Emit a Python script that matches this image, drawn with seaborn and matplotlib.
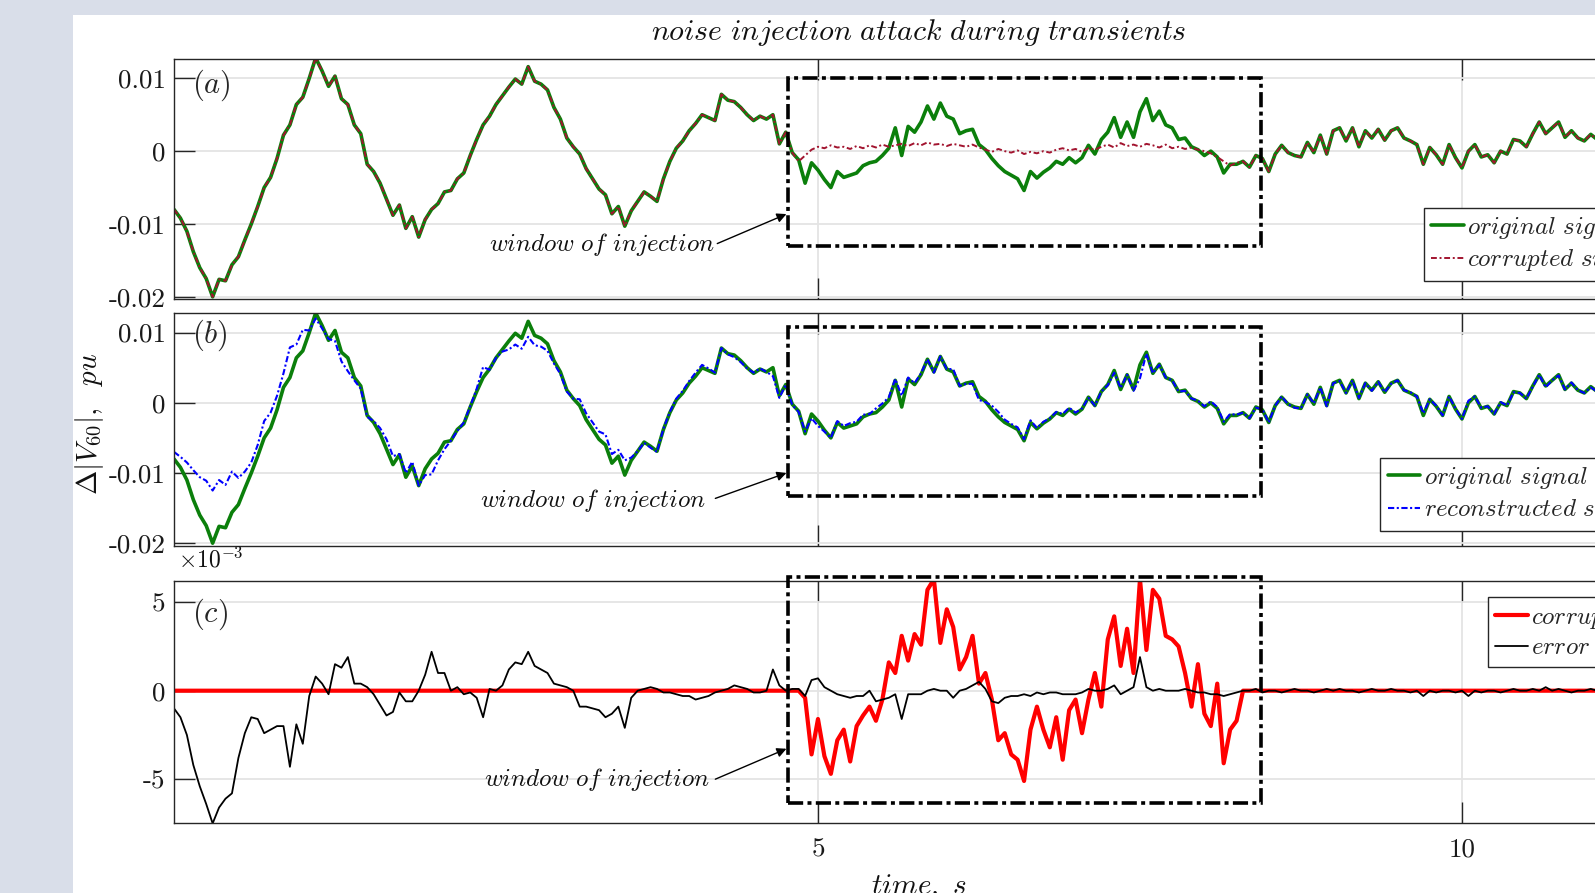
import numpy as np
import pandas as pd
import matplotlib
matplotlib.use("Agg")
import matplotlib.pyplot as plt
from matplotlib.patches import Rectangle
import seaborn as sns

# ---------------------------------------------------------------------------
# Data (values in units of 1e-3 pu, sampled every DT seconds from t = 0)
# ---------------------------------------------------------------------------
DT = 0.05

original_mpu = [
    -8.0, -9.2, -11.0, -13.8, -16.0, -17.5, -20.0, -17.6, -17.8, -15.6, -14.5, -12.2, -10.0, -7.6, -5.0, -3.6, -1.0, 2.2, 3.6, 6.4,
    7.4, 10.0, 12.8, 11.0, 8.9, 10.3, 7.2, 6.4, 3.6, 2.4, -1.8, -2.8, -4.4, -6.6, -8.8, -7.4, -10.6, -9.0, -11.8, -9.4,
    -8.0, -7.2, -5.6, -5.4, -3.8, -3.0, -0.6, 1.6, 3.6, 4.8, 6.4, 7.6, 8.8, 9.9, 9.2, 11.6, 9.6, 9.2, 8.4, 6.0,
    4.4, 1.8, 0.6, -0.4, -2.4, -3.8, -5.2, -6.0, -8.6, -7.6, -10.3, -8.2, -6.9, -5.6, -6.2, -6.9, -3.8, -1.4, 0.4, 1.4,
    2.8, 3.8, 5.0, 4.6, 4.2, 7.8, 7.0, 6.8, 6.0, 5.0, 4.2, 4.8, 4.4, 5.0, 1.0, 2.6, -0.2, -1.2, -4.4, -1.6,
    -2.6, -3.9, -5.0, -2.8, -3.6, -3.3, -3.0, -2.0, -1.6, -1.4, -0.6, 0.4, 3.2, -0.6, 3.4, 2.6, 4.0, 6.2, 4.4, 6.6,
    4.8, 4.4, 2.4, 2.8, 3.0, 0.9, 0.2, -1.0, -2.0, -2.8, -3.3, -3.8, -5.4, -2.8, -3.7, -2.9, -2.3, -1.4, -1.8, -0.9,
    -1.6, -0.9, 0.8, -0.4, 1.6, 2.6, 4.6, 1.9, 4.0, 1.9, 5.4, 7.2, 4.2, 5.5, 3.6, 3.2, 1.6, 1.8, 0.6, 0.2,
    -0.6, 0.0, -0.8, -3.0, -1.8, -1.8, -1.4, -2.2, -0.6, -1.0, -2.8, -0.4, 0.8, -0.2, -0.6, -0.8, 1.2, -0.2, 2.2, -0.4,
    2.8, 3.2, 1.4, 3.2, 0.6, 2.8, 1.8, 3.0, 1.5, 2.8, 3.2, 1.8, 1.4, 0.9, -1.8, 0.5, -0.5, -1.8, 0.9, -0.9,
    -2.3, 0.0, 0.9, -0.8, -0.5, -1.6, 0.0, -0.4, 1.6, 1.4, 0.6, 2.4, 4.0, 2.4, 3.2, 4.0, 1.9, 2.8, 1.8, 1.4,
    2.3, 1.6, 2.0, 1.2, 1.8,
]

# estimation error = original - reconstructed
error_mpu = [
    -1.0, -1.5, -2.5, -4.2, -5.4, -6.4, -7.5, -6.6, -6.1, -5.8, -3.8, -2.4, -1.5, -1.6, -2.4, -2.2, -2.0, -2.0, -4.3, -1.9,
    -3.0, -0.3, 0.8, 0.4, -0.2, 1.5, 1.3, 1.9, 0.4, 0.4, 0.2, -0.2, -0.8, -1.4, -1.2, -0.1, -0.6, -0.6, 0.0, 0.9,
    2.2, 1.0, 1.0, 0.0, 0.2, -0.2, -0.1, -0.4, -1.5, 0.1, 0.0, 0.3, 1.2, 1.6, 1.5, 2.2, 1.4, 1.2, 1.0, 0.4,
    0.3, 0.2, 0.0, -0.9, -0.9, -1.0, -1.1, -1.5, -1.3, -0.9, -2.1, -0.4, 0.0, 0.1, 0.2, 0.1, -0.1, -0.1, -0.2, -0.3,
    -0.3, -0.5, -0.4, -0.3, -0.1, 0.0, 0.1, 0.3, 0.2, 0.1, -0.1, -0.1, 0.0, 1.2, 0.3, 0.0, 0.1, 0.1, -0.3, 0.6,
    0.7, 0.2, 0.0, -0.2, -0.3, -0.4, -0.3, -0.3, 0.0, -0.6, -0.5, -0.4, -0.2, -1.6, -0.2, -0.2, -0.2, 0.0, 0.1, 0.0,
    0.0, -0.4, 0.0, 0.1, 0.3, 0.5, 0.1, -0.6, -0.7, -0.4, -0.3, -0.3, -0.2, -0.3, -0.1, -0.2, -0.1, -0.1, -0.2, -0.2,
    -0.2, -0.1, 0.1, 0.0, 0.0, 0.1, 0.3, -0.2, 0.0, 0.2, 1.9, 0.2, 0.0, 0.1, 0.0, 0.0, 0.0, 0.1, 0.0, -0.1,
    -0.1, -0.2, -0.2, -0.3, -0.2, -0.1, 0.0, 0.0, 0.1, -0.1, 0.0, 0.0, -0.1, 0.0, 0.1, 0.0, 0.0, -0.1, 0.0, 0.1,
    0.0, 0.1, 0.0, 0.0, -0.1, 0.0, 0.1, 0.0, 0.0, 0.1, 0.0, 0.0, -0.1, 0.0, -0.3, 0.0, -0.1, 0.0, 0.0, -0.1,
    0.0, -0.3, 0.0, -0.1, 0.0, 0.0, -0.1, 0.0, 0.1, 0.0, 0.0, 0.1, 0.0, 0.2, 0.0, 0.1, 0.0, -0.1, 0.0, 0.0,
    0.1, 0.0, 0.0, -0.1, 0.0,
]

# attack window: samples from WINDOW_T0 to 8.30 s
WINDOW_T0 = 4.80
corrupted_window_mpu = [
    -0.2, -1.4, -0.6, 0.2,
    0.6, 0.4, 0.8, 0.5, 0.6, 0.3, 0.7, 0.4, 0.8, 0.5, 0.9, 0.6, 0.8, 1.0, 0.7, 1.1, 0.8, 1.2, 0.9, 1.0,
    0.7, 1.0, 0.8, 0.6, 0.9, 0.5, 0.2, -0.1, 0.3, 0.0, -0.2, 0.1, -0.4, -0.1, -0.3, 0.0, -0.2, 0.2, 0.4, 0.1,
    0.3, -0.1, 0.4, 0.2, 0.6, 0.9, 0.5, 1.1, 0.7, 0.9, 0.6, 1.0, 0.8, 0.5, 0.9, 0.4, 0.6, 0.3, 0.5, 0.2,
    0.0, -0.3, -0.8, -1.4, -2.0, -1.6, -1.4,
]
corruption_window_mpu = [
    0.0, 0.0, -0.4, -3.6,
    -1.6, -3.7, -4.7, -2.8, -2.2, -4.0, -2.0, -1.4, -0.9, -1.7, -0.5, 1.6, 1.0, 3.1, 1.7, 3.2, 2.6, 5.7, 6.3, 2.7,
    4.6, 3.6, 1.2, 1.9, 3.1, 0.4, 1.0, -0.5, -2.8, -2.4, -3.6, -3.9, -5.1, -2.2, -0.9, -2.2, -3.2, -1.5, -3.9, -1.1,
    -0.5, -2.4, -0.5, 1.0, -0.9, 2.9, 4.2, 1.4, 3.5, 1.0, 6.3, 2.3, 5.7, 5.2, 3.1, 2.9, 2.5, 1.0, -0.9, 1.5,
    -1.3, -2.0, 0.4, -4.1, -2.2, -1.7, 0.0,
]

# window-of-injection box: time span and vertical extent per panel
box_t = (4.771, 8.443)
box_y_a = (-0.01298, 0.0100)
box_y_b = (-0.01333, 0.01073)
box_y_c = (-0.00632, 0.00643)

# ---------------------------------------------------------------------------
n = min(len(original_mpu), len(error_mpu))
t = np.round(np.arange(n) * DT, 2)
orig = np.asarray(original_mpu[:n]) * 1e-3
err = np.asarray(error_mpu[:n]) * 1e-3
recon = orig - err

i0 = int(round(WINDOW_T0 / DT))
corrupted = orig.copy()
corrupted[i0:i0 + len(corrupted_window_mpu)] = np.asarray(corrupted_window_mpu) * 1e-3
corruption = np.zeros(n)
corruption[i0:i0 + len(corruption_window_mpu)] = np.asarray(corruption_window_mpu) * 1e-3

df = pd.DataFrame({"t": t, "original": orig, "corrupted": corrupted,
                   "reconstructed": recon, "corruption": corruption, "error": err})

# ---------------------------------------------------------------------------
sns.set_theme(style="white")
plt.rcParams.update({
    "mathtext.fontset": "cm",
    "font.family": ["cmr10", "DejaVu Sans"],
    "axes.unicode_minus": False,
    "axes.formatter.use_mathtext": True,
})

W, H = 1595, 893
BG = "#d9dee9"
AX_COL = "#262626"
GRID_COL = "#e4e4e4"
GREEN = "#0b7f0b"
DARKRED = "#a2142f"
BLUE = "#0000ff"
RED = "#ff0000"

fig = plt.figure(figsize=(W / 100, H / 100), dpi=100, facecolor=BG)
fig.add_artist(Rectangle((73 / W, 0), 1, 1 - 15.3 / H, transform=fig.transFigure,
                         facecolor="white", edgecolor="none", zorder=0))

left, width = 174 / W, 1487.6 / W
axA = fig.add_axes([left, 1 - 299 / H, width, 240 / H])
axB = fig.add_axes([left, 1 - 546.2 / H, width, 232.9 / H])
axC = fig.add_axes([left, 1 - 822.9 / H, width, 242.1 / H])

TICK_FS = 19.5
TXT_FS = 18

def style_axes(ax, ylim, yticks, ylabels, show_x):
    ax.set_facecolor("white")
    ax.set_xlim(0, 11.55)
    ax.set_ylim(*ylim)
    ax.set_xticks([5, 10])
    ax.set_xticklabels(["5", "10"] if show_x else ["", ""])
    ax.set_yticks(yticks)
    ax.set_yticklabels(ylabels)
    ax.set_xlabel("")
    ax.set_ylabel("")
    ax.grid(True, color=GRID_COL, lw=1.3)
    ax.set_axisbelow(True)
    ax.tick_params(direction="in", length=15, width=1.0, color=AX_COL,
                   top=True, right=True, bottom=True, left=True,
                   labelsize=TICK_FS, labelcolor="#1a1a1a")
    ax.tick_params(axis="y", pad=6)
    ax.tick_params(axis="x", pad=11)
    for s in ax.spines.values():
        s.set_color(AX_COL)
        s.set_linewidth(1.0)

def window_box(ax, ys, clip=True):
    r = Rectangle((box_t[0], ys[0]), box_t[1] - box_t[0], ys[1] - ys[0],
                  fill=False, edgecolor="black", lw=2.6,
                  ls=(0, (4.2, 1.2, 1.1, 1.2)), zorder=4, clip_on=clip)
    ax.add_patch(r)

def window_note(ax, text_xy, tail, head):
    ax.text(*text_xy, r"$window\ of\ injection$", ha="center", va="center",
            fontsize=TXT_FS, color="#111111", zorder=5)
    ax.annotate("", xy=head, xytext=tail,
                arrowprops=dict(arrowstyle="-|>", color="black", lw=1.0,
                                mutation_scale=14, shrinkA=0, shrinkB=0),
                zorder=5)

def legend(ax, handles, labels, anchor):
    leg = ax.legend(handles, labels, loc="upper left", bbox_to_anchor=anchor,
                    frameon=True, fancybox=False, framealpha=1, edgecolor=AX_COL,
                    fontsize=TXT_FS, handlelength=1.3, handletextpad=0.15,
                    borderpad=0.3, labelspacing=0.25, borderaxespad=0)
    leg.get_frame().set_linewidth(1.0)
    leg.set_zorder(10)

# ---- (a) original vs corrupted -------------------------------------------
sns.lineplot(data=df, x="t", y="original", ax=axA, color=GREEN, lw=2.6,
             estimator=None, sort=False, legend=False)
hA1 = axA.lines[-1]
sns.lineplot(data=df, x="t", y="corrupted", ax=axA, color=DARKRED, lw=1.4,
             linestyle=(0, (3, 1.4, 1, 1.4)), estimator=None, sort=False, legend=False)
hA2 = axA.lines[-1]
style_axes(axA, (-0.0203, 0.01265), [-0.02, -0.01, 0, 0.01],
           ["-0.02", "-0.01", "0", "0.01"], False)
window_box(axA, box_y_a)
window_note(axA, (3.326, -0.01283), (4.218, -0.01269), (4.755, -0.00864))
axA.text(0.14, 0.0091, r"$(a)$", fontsize=22, ha="left", va="center")
legend(axA, [hA1, hA2], [r"$original\ signal$", r"$corrupted\ signal$"], (0.840, 0.381))

# ---- (b) original vs reconstructed ---------------------------------------
sns.lineplot(data=df, x="t", y="original", ax=axB, color=GREEN, lw=2.6,
             estimator=None, sort=False, legend=False)
hB1 = axB.lines[-1]
sns.lineplot(data=df, x="t", y="reconstructed", ax=axB, color=BLUE, lw=1.5,
             linestyle=(0, (3, 1.2, 1, 1.2)), estimator=None, sort=False, legend=False)
hB2 = axB.lines[-1]
style_axes(axB, (-0.02043, 0.01275), [-0.02, -0.01, 0, 0.01],
           ["-0.02", "-0.01", "0", "0.01"], False)
window_box(axB, box_y_b)
window_note(axB, (3.255, -0.01392), (4.203, -0.01362), (4.755, -0.0100))
axB.text(0.14, 0.0096, r"$(b)$", fontsize=22, ha="left", va="center")
legend(axB, [hB1, hB2], [r"$original\ signal$", r"$reconstructed\ signal$"], (0.811, 0.380))

# ---- (c) corruption and error --------------------------------------------
sns.lineplot(data=df, x="t", y="corruption", ax=axC, color=RED, lw=3.0,
             estimator=None, sort=False, legend=False)
hC1 = axC.lines[-1]
sns.lineplot(data=df, x="t", y="error", ax=axC, color="black", lw=1.3,
             estimator=None, sort=False, legend=False)
hC2 = axC.lines[-1]
style_axes(axC, (-7.47e-3, 6.21e-3), [-5e-3, 0, 5e-3], ["-5", "0", "5"], True)
window_box(axC, box_y_c, clip=False)
window_note(axC, (3.286, -5.0e-3), (4.203, -5.0e-3), (4.755, -3.28e-3))
axC.text(0.14, 4.32e-3, r"$(c)$", fontsize=22, ha="left", va="center")
legend(axC, [hC1, hC2], [r"$corruption$", r"$error$"], (0.883, 0.933))

# ---- figure texts ----------------------------------------------------------
fig.text(918.5 / W, 1 - 32.5 / H, r"$noise\ injection\ attack\ during\ transients$",
         ha="center", va="center", fontsize=21.5, color="#111111")
fig.text(89.5 / W, 1 - 424 / H, r"$\Delta|V_{60}|,\ \ pu$", rotation=90,
         ha="center", va="center", fontsize=21, color="#111111")
fig.text(918.5 / W, 1 - 887 / H, r"$time,\ s$", ha="center", va="center",
         fontsize=21, color="#111111")
fig.text(178 / W, 1 - 559.5 / H, r"$\times10^{-3}$", ha="left", va="center",
         fontsize=17, color="#111111")

fig.savefig("out.png", dpi=100, facecolor=BG)
